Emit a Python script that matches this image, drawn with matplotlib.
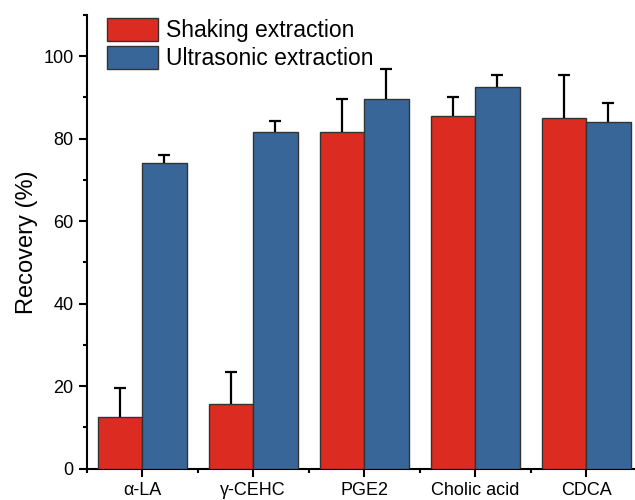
import matplotlib
matplotlib.use('Agg')
import matplotlib.pyplot as plt
import numpy as np
from matplotlib.ticker import MultipleLocator, FixedLocator

plt.rcParams['font.family'] = 'Liberation Sans'

# ---------------- data ----------------
compounds = ['α-LA', 'γ-CEHC', 'PGE2', 'Cholic acid', 'CDCA']
shaking = [12.6, 15.6, 81.6, 85.6, 85.1]
shaking_err = [6.9, 7.7, 8.1, 4.6, 10.3]
ultrasonic = [74.2, 81.5, 89.6, 92.6, 84.1]
ultrasonic_err = [1.9, 2.7, 7.2, 2.8, 4.6]

red = '#DC2B21'
blue = '#386698'

fig = plt.figure(figsize=(6.35, 5), dpi=100)
ax = fig.add_axes([0.1365, 0.063, 0.874, 0.907])

x = np.arange(1, len(compounds) + 1)
w = 0.4

ax.bar(x - w/2, shaking, w, color=red, edgecolor='#333333', linewidth=1,
       label='Shaking extraction', zorder=3)
ax.bar(x + w/2, ultrasonic, w, color=blue, edgecolor='#333333', linewidth=1,
       label='Ultrasonic extraction', zorder=3)

# one sided error bars (upper only), lower caps hidden
for xs, vals, errs in [(x - w/2, shaking, shaking_err),
                       (x + w/2, ultrasonic, ultrasonic_err)]:
    eb = ax.errorbar(xs, vals, yerr=[np.zeros(len(vals)), errs], fmt='none',
                     ecolor='black', elinewidth=1.6, capsize=4, capthick=1.6,
                     zorder=2)
    eb[1][0].set_visible(False)

ax.set_xlim(0.5, 5.5)
ax.set_ylim(0, 110)
ax.set_xticks(x)
ax.set_xticklabels(compounds, fontsize=13)
ax.xaxis.set_minor_locator(FixedLocator(np.arange(0.5, 6, 1)))
ax.yaxis.set_major_locator(MultipleLocator(20))
ax.yaxis.set_minor_locator(MultipleLocator(10))
ax.tick_params(axis='y', labelsize=13)
ax.tick_params(which='major', direction='out', length=5.5, width=1.5, pad=4)
ax.tick_params(which='minor', direction='out', length=3, width=1.5)
ax.set_ylabel('Recovery (%)', fontsize=17, labelpad=4)

for s in ['top', 'right']:
    ax.spines[s].set_visible(False)
for s in ['left', 'bottom']:
    ax.spines[s].set_linewidth(1.5)

leg = ax.legend(loc='upper left', bbox_to_anchor=(0.035, 0.995), frameon=False,
                fontsize=16.5, handlelength=2.2, handleheight=1.13,
                handletextpad=0.36, labelspacing=0.17, borderpad=0.05,
                borderaxespad=0)

fig.savefig('out.png', dpi=100)
